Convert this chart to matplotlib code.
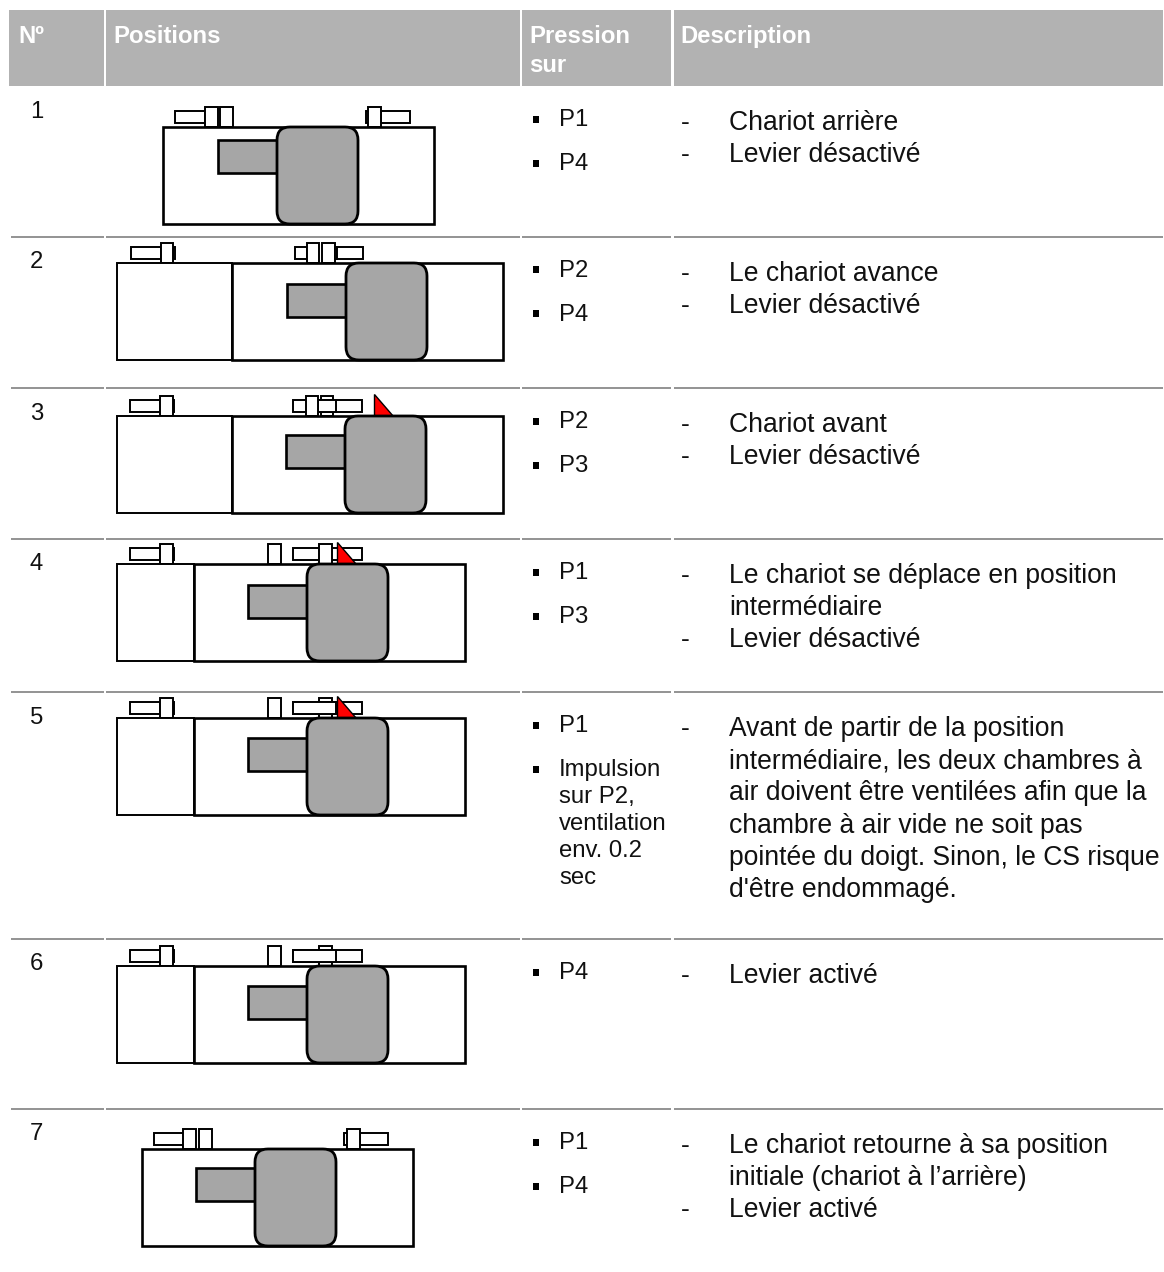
import matplotlib
matplotlib.use('Agg')
import matplotlib.pyplot as plt
from matplotlib.patches import FancyBboxPatch, Polygon, Rectangle

plt.rcParams['font.family'] = ['Liberation Sans', 'DejaVu Sans']

# Table text
HEADERS = ['Nº', 'Positions', 'Pression', 'sur', 'Description']
ROW_NUMBERS = ['1', '2', '3', '4', '5', '6', '7']
PRESSURE = [
    ['P1', 'P4'],
    ['P2', 'P4'],
    ['P2', 'P3'],
    ['P1', 'P3'],
    ['P1', 'Impulsion'],
    ['P4'],
    ['P1', 'P4'],
]
IMPULSE_LINES = ['sur P2,', 'ventilation', 'env. 0.2', 'sec']
DESCRIPTION = [
    [('-', 'Chariot arrière'), ('-', 'Levier désactivé')],
    [('-', 'Le chariot avance'), ('-', 'Levier désactivé')],
    [('-', 'Chariot avant'), ('-', 'Levier désactivé')],
    [('-', 'Le chariot se déplace en position'), ('', 'intermédiaire'), ('-', 'Levier désactivé')],
    [('-', 'Avant de partir de la position'),
     ('', 'intermédiaire, les deux chambres à'),
     ('', 'air doivent être ventilées afin que la'),
     ('', 'chambre à air vide ne soit pas'),
     ('', 'pointée du doigt. Sinon, le CS risque'),
     ('', "d'être endommagé.")],
    [('-', 'Levier activé')],
    [('-', 'Le chariot retourne à sa position'), ('', 'initiale (chariot à l’arrière)'), ('-', 'Levier activé')],
]

# Table layout, in image pixels
ROW_LINES = [86, 236.7, 388, 539, 692, 939, 1109]
COLUMNS = [(9, 103.7), (105.5, 520), (521.5, 671), (673.5, 1163)]

# Drawing of each position, in image pixels
CYL_LEFT = [163, 232, 232, 194, 194, 194, 142]
CYL_TOP = [127, 263, 416, 564, 718, 966, 1149]
CAR_LEFT = [277, 346, 345, 307, 307, 307, 255]
ROD_TOP = [140, 284, 435, 585, 738, 986, 1168]
OUTER_LEFT = [None, 117, 117, 117, 117, 117, None]
CYL_W, CYL_H = 271, 97
CAR_W, ROD_W, ROD_H = 81, 59, 33

# sensors per row: (kind, x0, x1), L = long body, H = head
SENSORS = [
    [('L', 175, 205), ('H', 205, 218), ('H', 220, 233),
     ('L', 366, 369), ('L', 381, 410), ('H', 368, 381)],
    [('L', 131, 161), ('L', 173, 175), ('H', 161, 173),
     ('L', 295, 307), ('H', 307, 319), ('H', 322, 335), ('L', 335, 337), ('L', 337, 363)],
    [('L', 130, 160), ('L', 172, 174), ('H', 160, 173),
     ('H', 321, 333), ('L', 293, 362), ('L', 318, 336), ('H', 306, 318)],
    [('L', 130, 160), ('L', 172, 174), ('H', 160, 173),
     ('H', 268, 281), ('L', 293, 362), ('H', 319, 332)],
    [('L', 130, 160), ('L', 172, 174), ('H', 160, 173),
     ('H', 268, 281), ('H', 319, 332), ('L', 293, 362), ('L', 293, 336)],
    [('L', 130, 160), ('L', 172, 174), ('H', 160, 173),
     ('H', 268, 281), ('H', 319, 332), ('L', 293, 362), ('L', 293, 336)],
    [('L', 154, 184), ('H', 183, 196), ('H', 199, 212),
     ('L', 344, 348), ('L', 360, 388), ('H', 347, 360)],
]
TRIANGLE_LEFT = [None, None, 374, 337, 337, None, None]
TRIANGLE_W, TRIANGLE_H = 19, 22

BLACK = '#000000'
GREY = '#a6a6a6'
HEADER_GREY = '#b2b2b2'
LINE_GREY = '#808080'
FS = 17.2
FS_DESC = 19.1


def box(ax, x0, y0, x1, y1, fc='white', lw=1.9, z=2):
    ax.add_patch(Rectangle((x0, y0), x1 - x0, y1 - y0, fc=fc, ec=BLACK, lw=lw, zorder=z))


def draw_position(ax, i):
    top = CYL_TOP[i]
    z = 2
    for kind, x0, x1 in SENSORS[i]:
        z += 0.01
        if kind == 'H':
            box(ax, x0, top - 20, x1, top, lw=1.4, z=z)
        else:
            box(ax, x0, top - 16.5, x1, top - 4.5, lw=1.4, z=z)

    if TRIANGLE_LEFT[i] is not None:
        tx = TRIANGLE_LEFT[i]
        ax.add_patch(Polygon([(tx, top - TRIANGLE_H), (tx, top), (tx + TRIANGLE_W, top)],
                             closed=True, fc='#ff0000', ec=BLACK, lw=1.0, zorder=3))

    if OUTER_LEFT[i] is not None:
        box(ax, OUTER_LEFT[i], top, CYL_LEFT[i], top + CYL_H, lw=1.4, z=3.1)
    box(ax, CYL_LEFT[i], top, CYL_LEFT[i] + CYL_W, top + CYL_H, z=3.2)

    car = CAR_LEFT[i]
    box(ax, car - ROD_W, ROD_TOP[i], car, ROD_TOP[i] + ROD_H, fc=GREY, z=3.3)
    ax.add_patch(FancyBboxPatch((car, top), CAR_W, CYL_H,
                                boxstyle='round,pad=0,rounding_size=13',
                                fc=GREY, ec=BLACK, lw=2.0, zorder=3.4))


fig = plt.figure(figsize=(11.64, 12.72), dpi=100)
ax = fig.add_axes([0, 0, 1, 1])
ax.set_xlim(0, 1164)
ax.set_ylim(1272, 0)
ax.axis('off')

# Header band
for x0, x1 in COLUMNS:
    ax.add_patch(Rectangle((x0, 10), x1 - x0, 76, fc=HEADER_GREY, ec='none'))
for label, x, y in zip(HEADERS, [18, 113, 529, 529, 680], [43, 43, 43, 72, 43]):
    ax.text(x, y, label, color='white', fontweight='bold', fontsize=FS, va='baseline')

# Row separators
for y in ROW_LINES[1:]:
    for x0, x1 in COLUMNS:
        ax.plot([max(x0, 11), x1], [y, y], color=LINE_GREY, lw=1.2, solid_capstyle='butt')

for i, y in enumerate(ROW_LINES):
    ax.text(30, y + 31.5, ROW_NUMBERS[i], fontsize=FS, va='baseline', color='#111111')

    # Pressure column
    for j, label in enumerate(PRESSURE[i]):
        base = y + 40 + 44 * j
        ax.add_patch(Rectangle((533, base - 10.5), 5.5, 7, fc=BLACK, ec='none'))
        ax.text(559, base, label, fontsize=FS, va='baseline', color='#111111')
    if i == 4:
        for j, label in enumerate(IMPULSE_LINES):
            ax.text(559, y + 84 + 27 * (j + 1), label, fontsize=FS, va='baseline', color='#111111')

    # Description column
    for j, (dash, label) in enumerate(DESCRIPTION[i]):
        base = y + 44 + 32.2 * j
        if dash:
            ax.text(681, base, dash, fontsize=FS_DESC, va='baseline', color='#111111')
        ax.text(729, base, label, fontsize=FS_DESC, va='baseline', color='#111111')

    draw_position(ax, i)

fig.savefig('out.png', dpi=100, facecolor='white')
